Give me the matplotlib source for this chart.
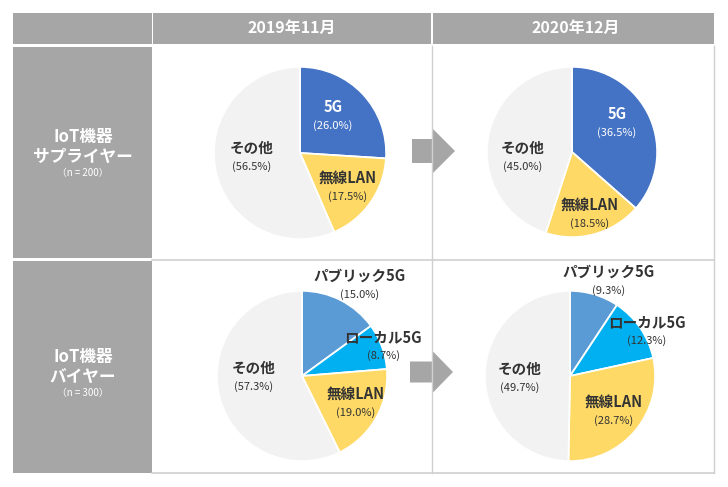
import matplotlib
matplotlib.use("Agg")
import matplotlib.pyplot as plt
from matplotlib.patches import Rectangle, FancyArrow

plt.rcParams['font.family'] = ['Noto Sans CJK JP', 'DejaVu Sans']

W, H = 728, 487

# data
periods = ["2019年11月", "2020年12月"]
groups = ["IoT機器\nサプライヤー", "IoT機器\nバイヤー"]
group_n = ["（n = 200）", "（n = 300）"]

supplier_labels = ["5G", "無線LAN", "その他"]
supplier_2019 = [26.0, 17.5, 56.5]
supplier_2020 = [36.5, 18.5, 45.0]

buyer_labels = ["パブリック5G", "ローカル5G", "無線LAN", "その他"]
buyer_2019 = [15.0, 8.7, 19.0, 57.3]
buyer_2020 = [9.3, 12.3, 28.7, 49.7]

colors = {"5G": "#4472C4", "パブリック5G": "#5B9BD5", "ローカル5G": "#00B0F0",
          "無線LAN": "#FFD966", "その他": "#F2F2F2"}
grey = "#A6A6A6"
line = "#CFCFCF"
dark = "#333333"

fig = plt.figure(figsize=(W / 100, H / 100), dpi=100)
bg = fig.add_axes([0, 0, 1, 1])
bg.set_xlim(0, W)
bg.set_ylim(H, 0)
bg.axis("off")

# table cells
bg.add_patch(Rectangle((13, 13), 139, 31, color=grey, lw=0))
bg.add_patch(Rectangle((153, 13), 278, 31, color=grey, lw=0))
bg.add_patch(Rectangle((433, 13), 281, 31, color=grey, lw=0))
bg.add_patch(Rectangle((13, 47), 139, 211, color=grey, lw=0))
bg.add_patch(Rectangle((13, 261), 139, 212, color=grey, lw=0))
bg.plot([432, 432], [46, 473], color=line, lw=1)
bg.plot([714, 714], [46, 473], color=line, lw=1)
bg.plot([152, 714], [259.5, 259.5], color=line, lw=1.2)
bg.plot([152, 714], [473, 473], color=line, lw=1.2)

for x, t in zip([292, 576], periods):
    bg.text(x, 28, t, color="white", fontsize=11.5, fontweight="bold",
            ha="center", va="center")

for y, g, n in zip([147, 367], groups, group_n):
    bg.text(83, y, g, color="white", fontsize=12, fontweight="bold",
            ha="center", va="center", linespacing=1.1)
    bg.text(83, y + 26, n, color="white", fontsize=7, ha="center", va="center")

# arrows
bg.add_patch(FancyArrow(412, 151, 43, 0, width=24, head_width=44, head_length=22,
                        length_includes_head=True, color=grey, lw=0))
bg.add_patch(FancyArrow(410, 372, 43, 0, width=21, head_width=43, head_length=21,
                        length_includes_head=True, color=grey, lw=0))

pies = [
    ((300, 153, 87), supplier_labels, supplier_2019,
     [(333, 107), (348, 178), (252, 148)]),
    ((572, 152, 86), supplier_labels, supplier_2020,
     [(617, 114), (590, 205), (523, 148)]),
    ((302, 376, 86), buyer_labels, buyer_2019,
     [(360, 276), (383, 337), (356, 394), (254, 368)]),
    ((570, 376, 86), buyer_labels, buyer_2020,
     [(609, 272), (647, 322), (614, 402), (520, 369)]),
]

for (cx, cy, r), labels, vals, pos in pies:
    ax = fig.add_axes([(cx - r) / W, 1 - (cy + r) / H, 2 * r / W, 2 * r / H])
    ax.pie(vals, colors=[colors[l] for l in labels], startangle=90,
           counterclock=False, wedgeprops=dict(edgecolor="white", linewidth=1.3))
    ax.set_xlim(-1.01, 1.01)
    ax.set_ylim(-1.01, 1.01)
    ax.axis("off")

# labels on top of the pies
top = fig.add_axes([0, 0, 1, 1])
top.set_xlim(0, W)
top.set_ylim(H, 0)
top.axis("off")
for (cx, cy, r), labels, vals, pos in pies:
    for lab, v, (px, py) in zip(labels, vals, pos):
        c = "white" if lab == "5G" else dark
        top.text(px, py, lab, color=c, fontsize=10.5, fontweight="bold",
                 ha="center", va="center")
        top.text(px, py + 19, f"({v:.1f}%)", color=c, fontsize=8,
                 ha="center", va="center")

fig.savefig("out.png", dpi=100)
